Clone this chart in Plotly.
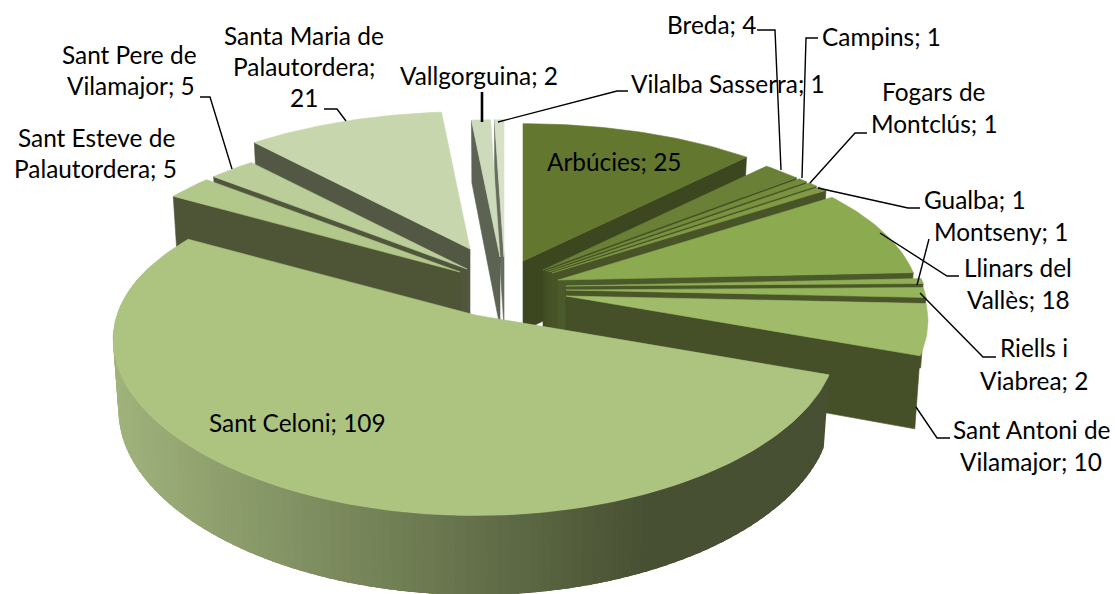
import math
import plotly.graph_objects as go

# ---------- data ----------
categories = ["Arbúcies", "Breda", "Campins", "Fogars de Montclús", "Gualba", "Llinars del Vallès",
              "Montseny", "Riells i Viabrea", "Sant Antoni de Vilamajor", "Sant Celoni",
              "Sant Esteve de Palautordera", "Sant Pere de Vilamajor", "Santa Maria de Palautordera",
              "Vallgorguina", "Vilalba Sasserra"]
values = [25, 4, 1, 1, 1, 18, 1, 2, 10, 109, 5, 5, 21, 2, 1]

# ---------- style ----------
top_colors = ["#64772F", "#6B8037", "#748A3B", "#7B9240", "#829A44", "#8CAA50", "#91AE55", "#96B45C",
              "#A0BC6B", "#ACC480", "#B2C88A", "#BBCD98", "#C7D6AD", "#CDDABB", "#D6E1C8"]
wall_colors = ["#3C4720", "#404C22", "#435024", "#465226", "#485428", "#4B5A2A", "#4A5829", "#4A5629",
               "#465028", "#475032", "#4E5537", "#50563C", "#525844", "#5C6352", "#666D5C"]
apexes = [(523, 261), (543, 270), (546, 271), (549, 272), (552, 273), (558, 280), (566, 286), (566, 290),
          (566, 296), (475, 315), (460, 272), (467, 269), (470, 249), (500, 257), (504, 257)]
draw_order = [0, 1, 2, 3, 4, 5, 6, 7, 8, 14, 13, 12, 11, 10, 9]
label_lines = [
    ("Breda; 4", 711, 24), ("Campins; 1", 881, 36), ("Fogars de", 933, 91), ("Montclús; 1", 934, 123),
    ("Gualba; 1", 975, 199), ("Montseny; 1", 1001, 231), ("Llinars del", 1018, 267), ("Vallès; 18", 1018, 299),
    ("Riells i", 1034, 347), ("Viabrea; 2", 1034, 380), ("Sant Antoni de", 1031, 429), ("Vilamajor; 10", 1031, 461),
    ("Sant Celoni; 109", 297, 422), ("Arbúcies; 25", 614, 161), ("Sant Esteve de", 96, 137),
    ("Palautordera; 5", 95, 168), ("Sant Pere de", 129, 54), ("Vilamajor; 5", 131, 85),
    ("Santa Maria de", 304, 35), ("Palautordera;", 304, 66), ("21", 304, 97),
    ("Vallgorguina; 2", 479, 75), ("Vilalba Sasserra; 1", 728, 83),
]
leaders = [
    [(757, 30), (775, 30), (781, 170)], [(818, 38), (806, 38), (802, 178)],
    [(867, 133), (855, 133), (810, 183)], [(818, 188), (908, 208), (920, 208)],
    [(929, 239), (917, 285)], [(880, 233), (947, 276), (959, 276)], [(920, 293), (983, 357), (996, 357)],
    [(916, 407), (937, 438), (950, 438)], [(324, 109), (337, 109), (346, 121)],
    [(200, 97), (210, 97), (232, 169)], [(498, 122), (617, 91), (628, 91)],
]

# ---------- geometry derived from the values ----------
RX, KX, AY, KY = 358.0, 0.147, 163.0, 0.187
DROP_SHRINK = 0.985


def project(theta, apex):
    s, c = math.sin(theta), math.cos(theta)
    return apex[0] + RX * s / (1 + KX * c), apex[1] - AY * c / (1 + KY * c)


def height(theta):
    return 70.0 / (1 + 0.12 * math.cos(theta))


def lower(theta, apex):
    x, y = project(theta, apex)
    return apex[0] + (x - apex[0]) * DROP_SHRINK, y + height(theta)


def arc(a0, a1, apex, drop=False):
    n = max(2, int(abs(a1 - a0) / math.radians(1.0)))
    pts = []
    for i in range(n + 1):
        t = a0 + (a1 - a0) * i / n
        pts.append(lower(t, apex) if drop else project(t, apex))
    return pts


def hex_rgb(h):
    return tuple(int(h[i:i + 2], 16) for i in (1, 3, 5))


def mix(a, b, t):
    ra, rb = hex_rgb(a), hex_rgb(b)
    return "rgb(%d,%d,%d)" % tuple(round(ra[i] + (rb[i] - ra[i]) * t) for i in range(3))


fig = go.Figure()


def poly(pts, color, name, width=0.6):
    xs = [p[0] for p in pts] + [pts[0][0]]
    ys = [p[1] for p in pts] + [pts[0][1]]
    fig.add_trace(go.Scatter(x=xs, y=ys, mode="lines", fill="toself", fillcolor=color,
                             line=dict(color=color, width=width), name=name, hoverinfo="name",
                             showlegend=False))


total = sum(values)
starts, cum = [], 0
for v in values:
    starts.append(cum / total * 2 * math.pi)
    cum += v

for i in draw_order:
    a0 = starts[i]
    a1 = a0 + values[i] / total * 2 * math.pi
    apex = apexes[i]
    name = f"{categories[i]}; {values[i]}"
    mid = (a0 + a1) / 2
    if i != 9:
        # radial wall that faces the viewer
        edge = a1 if mid < math.pi else a0
        poly([apex, project(edge, apex), lower(edge, apex), (apex[0], apex[1] + 70)], wall_colors[i], name)
    else:
        # outer wall with a horizontal gradient
        lo, hi = a0, min(a1, 1.6 * math.pi)
        n = 120
        step = (hi - lo) / n
        for k in range(n):
            t0 = lo + step * k
            t1 = min(hi, t0 + 2.5 * step)
            q = arc(t0, t1, apex) + arc(t1, t0, apex, drop=True)
            xm = project(t0 + step / 2, apex)[0]
            poly(q, mix("#A0B37C", "#475032", min(1, max(0, (xm - 112) / 538))), name, width=0)
    # top face
    poly([apex] + arc(a0, a1, apex), top_colors[i], name)

for pts in leaders:
    fig.add_trace(go.Scatter(x=[p[0] for p in pts], y=[p[1] for p in pts], mode="lines",
                             line=dict(color="black", width=1.4), hoverinfo="skip", showlegend=False))
fig.add_trace(go.Scatter(x=[482, 482], y=[92, 122], mode="lines", line=dict(color="black", width=2.6),
                         hoverinfo="skip", showlegend=False))

for text, x, y in label_lines:
    fig.add_annotation(x=x, y=y, text=text, showarrow=False, xanchor="center", yanchor="middle",
                       font=dict(family="Lato, Carlito, Calibri, sans-serif", size=24.4, color="black"))

fig.update_layout(width=1115, height=594, margin=dict(l=0, r=0, t=0, b=0), paper_bgcolor="white",
                  plot_bgcolor="white", showlegend=False,
                  xaxis=dict(range=[0, 1115], visible=False, fixedrange=True),
                  yaxis=dict(range=[594, 0], visible=False, fixedrange=True))
fig.write_html("out.html", config={"displayModeBar": False},
               post_script="document.body.style.margin='0';document.documentElement.style.overflow='hidden';")
